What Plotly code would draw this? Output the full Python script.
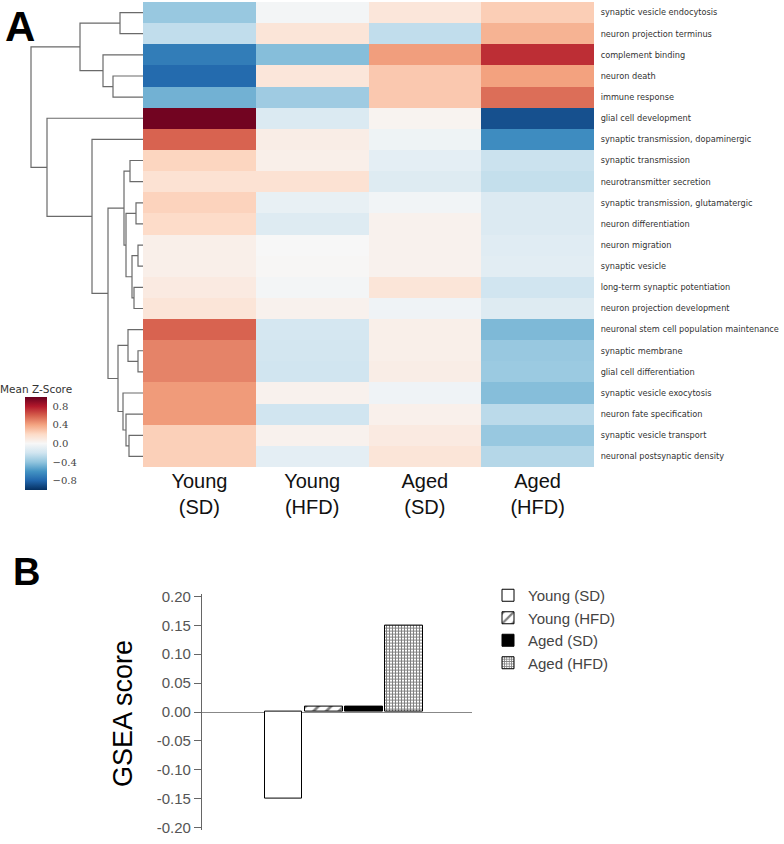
import plotly.graph_objects as go

# ---------------- data ----------------
CONDITIONS = ["Young (SD)", "Young (HFD)", "Aged (SD)", "Aged (HFD)"]
COLUMN_LABELS = ["Young<br>(SD)", "Young<br>(HFD)", "Aged<br>(SD)", "Aged<br>(HFD)"]

PATHWAYS = [
    "synaptic vesicle endocytosis",
    "neuron projection terminus",
    "complement binding",
    "neuron death",
    "immune response",
    "glial cell development",
    "synaptic transmission, dopaminergic",
    "synaptic transmission",
    "neurotransmitter secretion",
    "synaptic transmission, glutamatergic",
    "neuron differentiation",
    "neuron migration",
    "synaptic vesicle",
    "long-term synaptic potentiation",
    "neuron projection development",
    "neuronal stem cell population maintenance",
    "synaptic membrane",
    "glial cell differentiation",
    "synaptic vesicle exocytosis",
    "neuron fate specification",
    "synaptic vesicle transport",
    "neuronal postsynaptic density",
]

YOUNG_SD = [-0.38, -0.25, -0.70, -0.78, -0.48, 0.97, 0.59, 0.22, 0.15, 0.23, 0.19,
            0.06, 0.06, 0.09, 0.13, 0.59, 0.50, 0.50, 0.43, 0.43, 0.24, 0.24]
YOUNG_HFD = [-0.02, 0.13, -0.43, 0.12, -0.36, -0.15, 0.07, 0.06, 0.15, -0.08, -0.13,
             0.00, 0.01, -0.02, 0.04, -0.18, -0.19, -0.20, 0.04, -0.20, 0.04, -0.10]
AGED_SD = [0.12, -0.25, 0.42, 0.27, 0.27, 0.03, -0.05, -0.10, -0.13, -0.03, 0.04,
           0.04, 0.04, 0.13, -0.04, 0.06, 0.06, 0.07, -0.04, 0.05, 0.09, 0.13]
AGED_HFD = [0.25, 0.35, 0.74, 0.41, 0.56, -0.88, -0.63, -0.22, -0.24, -0.14, -0.14,
            -0.12, -0.11, -0.20, -0.13, -0.45, -0.38, -0.37, -0.43, -0.27, -0.38, -0.29]

# hierarchical clustering of rows: (child a, child b, merge distance);
# leaves are 0..21, merged nodes numbered from 22 upward
LINKAGE = [
    (0, 1, 23), (3, 4, 30), (2, 23, 40), (22, 24, 63),
    (7, 8, 13), (9, 10, 7), (11, 12, 5), (13, 14, 9), (28, 29, 11),
    (27, 30, 17), (26, 31, 19), (16, 17, 5), (15, 33, 15), (20, 21, 14),
    (19, 35, 17), (18, 36, 20), (34, 37, 25), (32, 38, 35), (6, 39, 51),
    (5, 40, 96), (25, 41, 112),
]

COLORBAR_TICKS = [0.8, 0.4, 0.0, -0.4, -0.8]

GSEA_SCORES = [-0.15, 0.01, 0.01, 0.15]
GSEA_TICKS = [0.20, 0.15, 0.10, 0.05, 0.00, -0.05, -0.10, -0.15, -0.20]
GSEA_TICK_TEXT = ["0.20", "0.15", "0.10", "0.05", "0.00", "-0.05", "-0.10", "-0.15", "-0.20"]

# ---------------- figure ----------------
W, H = 784, 844


def px_x(p):
    return p / W


def px_y(p):
    return 1 - p / H


RDBU_R = [
    [0.0, "rgb(5,48,97)"], [0.1, "rgb(33,102,172)"], [0.2, "rgb(67,147,195)"],
    [0.3, "rgb(146,197,222)"], [0.4, "rgb(209,229,240)"], [0.5, "rgb(247,247,247)"],
    [0.6, "rgb(253,219,199)"], [0.7, "rgb(244,165,130)"], [0.8, "rgb(214,96,77)"],
    [0.9, "rgb(178,24,43)"], [1.0, "rgb(103,0,31)"],
]

n_rows = len(PATHWAYS)
z = [[YOUNG_SD[i], YOUNG_HFD[i], AGED_SD[i], AGED_HFD[i]] for i in range(n_rows)]

fig = go.Figure()

fig.add_trace(go.Heatmap(
    z=z, x=list(range(4)), y=list(range(n_rows)),
    colorscale=RDBU_R, zmin=-1, zmax=1,
    xaxis="x", yaxis="y", showscale=True, hoverinfo="skip",
    colorbar=dict(
        x=px_x(25), xanchor="left", y=px_y(443.5), yanchor="middle",
        len=93 / H, lenmode="fraction", thickness=22, thicknessmode="pixels",
        outlinewidth=0, tickvals=COLORBAR_TICKS, tickformat=".1f",
        ticks="outside", ticklen=4, tickcolor="rgba(0,0,0,0)",
        tickfont=dict(family="DejaVu Serif", size=10, color="#444"),
        xpad=0, ypad=0,
    ),
))

# dendrogram from linkage
pos = {i: float(i) for i in range(n_rows)}
hgt = {i: 0.0 for i in range(n_rows)}
dx, dy = [], []
for k, (a, b, h) in enumerate(LINKAGE):
    dx += [hgt[a], h, h, hgt[b], None]
    dy += [pos[a], pos[a], pos[b], pos[b], None]
    pos[n_rows + k] = (pos[a] + pos[b]) / 2
    hgt[n_rows + k] = h

fig.add_trace(go.Scatter(
    x=dx, y=dy, mode="lines", xaxis="x2", yaxis="y2",
    line=dict(color="#6a6a6a", width=1.2), showlegend=False, hoverinfo="skip",
))

# bar chart
patterns = [
    dict(shape=""),
    dict(shape="/", fgcolor="black", bgcolor="white", size=9, solidity=0.3),
    dict(shape=""),
    dict(shape="+", fgcolor="black", bgcolor="white", size=3, solidity=0.55),
]
fills = ["white", "white", "black", "white"]
for i, name in enumerate(CONDITIONS):
    fig.add_trace(go.Bar(
        x=[i], y=[GSEA_SCORES[i]], name=name, xaxis="x3", yaxis="y3",
        width=0.94,
        marker=dict(color=fills[i], line=dict(color="black", width=1),
                    pattern=patterns[i]),
        hoverinfo="skip",
    ))

heat_top, heat_bot = 2, 467
fig.update_layout(
    width=W, height=H, autosize=False,
    margin=dict(l=0, r=0, t=0, b=0, pad=0, autoexpand=False),
    paper_bgcolor="white", plot_bgcolor="rgba(0,0,0,0)",
    font=dict(family="Liberation Sans, Arial, sans-serif", color="#222"),
    xaxis=dict(
        domain=[px_x(143), px_x(594)], range=[-0.5, 3.5], automargin=False,
        tickvals=list(range(4)), ticktext=COLUMN_LABELS,
        tickfont=dict(family="Liberation Sans, Arial", size=20, color="#111"),
        showgrid=False, zeroline=False, showline=False, ticks="",
    ),
    yaxis=dict(
        domain=[px_y(heat_bot), px_y(heat_top)], range=[n_rows - 0.5, -0.5],
        side="right", tickvals=list(range(n_rows)), ticktext=PATHWAYS,
        tickfont=dict(family="DejaVu Sans", size=8.2, color="#333"),
        showgrid=False, zeroline=False, showline=False, automargin=False,
        ticks="outside", ticklen=4, tickcolor="rgba(0,0,0,0)",
    ),
    xaxis2=dict(
        domain=[px_x(25), px_x(143)], range=[118, 0], automargin=False,
        visible=False, showgrid=False, zeroline=False,
    ),
    yaxis2=dict(
        domain=[px_y(heat_bot), px_y(heat_top)], range=[n_rows - 0.5, -0.5],
        visible=False, showgrid=False, zeroline=False, automargin=False,
    ),
    xaxis3=dict(
        domain=[px_x(202), px_x(472)], range=[-2.03, 4.69], automargin=False,
        visible=False, showgrid=False, zeroline=False,
    ),
    yaxis3=dict(
        domain=[px_y(830.4), px_y(593.6)], range=[-0.205, 0.205],
        anchor="x3", tickvals=GSEA_TICKS, ticktext=GSEA_TICK_TEXT, automargin=False,
        tickfont=dict(family="Liberation Sans, Arial", size=15, color="#555"),
        showgrid=False, showline=True, linecolor="#666", linewidth=1.2,
        ticks="outside", ticklen=7, tickcolor="#666", tickwidth=1.2,
        zeroline=True, zerolinecolor="#888", zerolinewidth=1.2,
    ),
    bargap=0.0,
    legend=dict(
        x=px_x(488), y=px_y(579), xanchor="left", yanchor="top",
        font=dict(family="Liberation Sans, Arial", size=15, color="#444"),
        bgcolor="rgba(0,0,0,0)", tracegroupgap=2,
    ),
    annotations=[
        dict(text="<b>A</b>", x=px_x(20), y=px_y(27), xref="paper", yref="paper",
             showarrow=False, xanchor="center", yanchor="middle",
             font=dict(family="Liberation Sans, Arial", size=42, color="black")),
        dict(text="<b>B</b>", x=px_x(27), y=px_y(572), xref="paper", yref="paper",
             showarrow=False, xanchor="center", yanchor="middle",
             font=dict(family="Liberation Sans, Arial", size=38, color="black")),
        dict(text="GSEA score", x=px_x(123), y=px_y(714), xref="paper", yref="paper",
             showarrow=False, xanchor="center", yanchor="middle", textangle=-90,
             font=dict(family="Liberation Sans, Arial", size=27, color="black")),
        dict(text="Mean Z-Score", x=px_x(36), y=px_y(389), xref="paper", yref="paper",
             showarrow=False, xanchor="center", yanchor="middle",
             font=dict(family="DejaVu Sans", size=10.5, color="#333")),
    ],
)

fig.write_html(
    "out.html",
    config={"displayModeBar": False},
    post_script="document.body.style.margin='0';document.body.style.padding='0';"
                "document.documentElement.style.overflow='hidden';",
)
